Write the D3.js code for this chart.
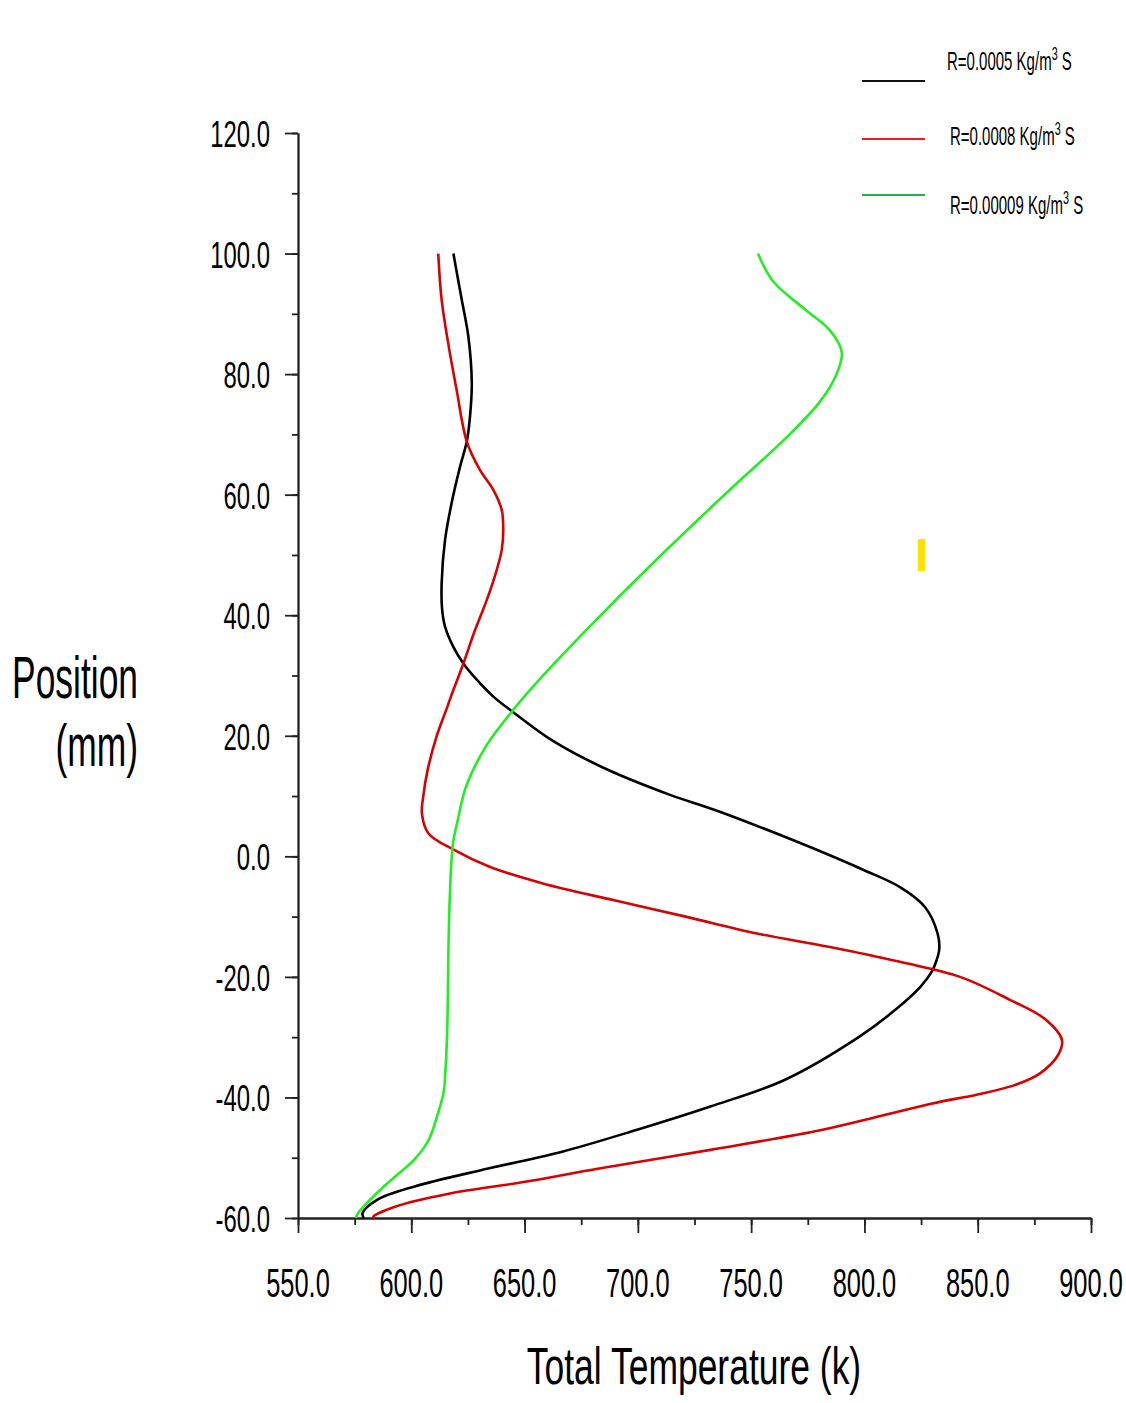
<!DOCTYPE html>
<html>
<head>
<meta charset="utf-8">
<script src="https://cdn.jsdelivr.net/npm/d3@7"></script>
<style>
  body { margin: 0; background: #fff; }
  svg text { font-family: "Liberation Sans", Arial, sans-serif; fill: #000; }
</style>
</head>
<body>
<svg id="chart"></svg>
<script>
// values: position (mm) -> total temperature (K)
const posBlack  = [100, 96, 92.3, 86.2, 78.5, 72.9, 68.8, 64.6, 58.6, 52.5, 45.3, 41, 38.1, 34.8, 32, 29.3, 26.5, 24, 19.1, 14.7, 10.2, 7.7, 2.7, -2.3, -5.1, -8.4, -12.8, -15.5, -17.7, -19.1, -21.6, -25.5, -29.9, -37.1, -41.5, -45.4, -49, -51.8, -54.8, -57, -59.2, -60];
const tempBlack = [618.6, 620.5, 622.3, 625.2, 626.7, 625.9, 624.5, 621.5, 617.8, 614.9, 613.4, 613.6, 614.9, 618.5, 623, 628.9, 636.2, 644.7, 662.7, 684.8, 714.2, 734, 768.4, 799.9, 815.7, 826.7, 832.3, 833, 831.4, 829.8, 824.8, 813.5, 797.8, 764.7, 732, 699.3, 666.6, 633.9, 601.2, 584.9, 578.5, 579];

const posRed  = [100, 92.3, 85.1, 77.4, 68.8, 64.1, 60.8, 57.5, 54.1, 50.8, 47.5, 42.5, 37.5, 32, 26.5, 24.8, 19.8, 14.3, 10, 7.1, 3.8, 1.1, -1.7, -4.5, -7.3, -10, -12.8, -15, -17.5, -20, -23.8, -27, -30.5, -33, -36, -38, -39.5, -41, -43, -45.4, -48.7, -51.8, -54, -55.9, -58.1, -59.8, -60];
const tempRed = [611.9, 613.4, 616.3, 620, 624.5, 630.3, 636.2, 639.9, 640.6, 639.9, 637.7, 633.3, 628.1, 623, 617.5, 615.9, 611.1, 607.2, 605.3, 604.7, 607.6, 618.7, 634.3, 658.1, 689.6, 721.1, 752.6, 784.2, 815.7, 842.2, 864.2, 879.7, 887.2, 885.4, 877.5, 866, 850, 830, 808, 781, 732, 682.9, 650.3, 617.6, 593.1, 583.2, 584];

const posGreen  = [100, 95.4, 91, 87.3, 83.6, 79.9, 75.4, 69.5, 60.6, 48.7, 37.6, 28.8, 24.3, 18.4, 11.7, 6, 2.1, -6.8, -15.5, -28.3, -36, -39.3, -43.7, -47.1, -50.4, -53.1, -55.9, -59.2, -60];
const tempGreen = [753, 759.7, 772.9, 784.7, 790, 787.6, 780.3, 765.6, 740, 706.8, 677.4, 655.3, 645, 633.2, 624.3, 620.5, 618.4, 617, 616.4, 615.9, 615, 614.2, 610.9, 607.6, 601.1, 592.9, 584.7, 576.5, 575.5];

const seriesNames = ["R=0.0005 Kg/m", "R=0.0008 Kg/m", "R=0.00009 Kg/m"];
const xTicks = [550, 600, 650, 700, 750, 800, 850, 900];
const yTicks = [-60, -40, -20, 0, 20, 40, 60, 80, 100, 120];

const W = 1126, H = 1403;
const svg = d3.select("#chart").attr("width", W).attr("height", H);

const x = d3.scaleLinear().domain([550, 900]).range([298, 1091]);
const y = d3.scaleLinear().domain([-60, 120]).range([1218, 133]);

const series = [
    {pos: posBlack, temp: tempBlack, color: "#000000", legendColor: "#111111", name: seriesNames[0]},
    {pos: posRed, temp: tempRed, color: "#d80000", legendColor: "#ed1c24", name: seriesNames[1]},
    {pos: posGreen, temp: tempGreen, color: "#22ee22", legendColor: "#22b14c", name: seriesNames[2]}
];

// axes: minor ticks first, then major ticks
const axisColor = "#222";
const minorY = d3.range(-60, 121, 10);
const minorX = d3.range(550, 901, 25);

svg.append("g")
    .attr("transform", "translate(298,0)")
    .call(d3.axisLeft(y).tickValues(minorY).tickSize(6).tickSizeOuter(0).tickFormat(""));
svg.append("g")
    .attr("transform", "translate(298,0)")
    .call(d3.axisLeft(y).tickValues(yTicks).tickSize(13).tickSizeOuter(0).tickFormat(""));
svg.append("g")
    .attr("transform", "translate(0,1218)")
    .call(d3.axisBottom(x).tickValues(minorX).tickSize(7).tickSizeOuter(0).tickFormat(""));
svg.append("g")
    .attr("transform", "translate(0,1218)")
    .call(d3.axisBottom(x).tickValues(xTicks).tickSize(15).tickSizeOuter(0).tickFormat(""));

svg.selectAll(".domain, .tick line")
    .attr("stroke", axisColor)
    .attr("stroke-width", 1.8);

// condensed labels (narrow font look of the original)
svg.append("g").selectAll("text")
    .data(yTicks)
    .enter()
    .append("text")
        .attr("transform", d => `translate(270,${y(d) + 14}) scale(0.645,1)`)
        .attr("text-anchor", "end")
        .attr("font-size", 37)
        .text(d => d.toFixed(1));

svg.append("g").selectAll("text")
    .data(xTicks)
    .enter()
    .append("text")
        .attr("transform", d => `translate(${x(d)},1297) scale(0.62,1)`)
        .attr("text-anchor", "middle")
        .attr("font-size", 41)
        .text(d => d.toFixed(1));

// axis titles
svg.append("text")
    .attr("transform", "translate(138,698) scale(0.59,1)")
    .attr("text-anchor", "end")
    .attr("font-size", 60)
    .text("Position");
svg.append("text")
    .attr("transform", "translate(138,766) scale(0.59,1)")
    .attr("text-anchor", "end")
    .attr("font-size", 60)
    .text("(mm)");
svg.append("text")
    .attr("transform", "translate(694,1384) scale(0.682,1)")
    .attr("text-anchor", "middle")
    .attr("font-size", 52)
    .text("Total Temperature (k)");

// curves
const line = d3.line()
    .x(d => x(d[1]))
    .y(d => y(d[0]))
    .curve(d3.curveCatmullRom.alpha(0.5));

svg.append("g").selectAll("path")
    .data(series)
    .enter()
    .append("path")
        .attr("d", s => line(s.pos.map((p, i) => [p, s.temp[i]])))
        .attr("fill", "none")
        .attr("stroke", s => s.color)
        .attr("stroke-width", 2.6)
        .attr("stroke-linejoin", "round");

// legend
const legendY = [81, 139, 195];
const labelY = [70, 145, 214];
const labelX = [947, 950, 950];
const legend = svg.append("g");
legend.selectAll("line")
    .data(series)
    .enter()
    .append("line")
        .attr("x1", 862).attr("x2", 925)
        .attr("y1", (d, i) => legendY[i]).attr("y2", (d, i) => legendY[i])
        .attr("stroke", d => d.legendColor)
        .attr("stroke-width", 2);

const lt = legend.selectAll("text")
    .data(series)
    .enter()
    .append("text")
        .attr("transform", (d, i) => `translate(${labelX[i]},${labelY[i]}) scale(0.6,1)`)
        .attr("font-size", 25);
lt.append("tspan").text(d => d.name);
lt.append("tspan").attr("dy", -10).attr("font-size", 18).text("3");
lt.append("tspan").attr("dy", 10).text(" S");

// small yellow mark present in the original figure
svg.append("rect")
    .attr("x", 918).attr("y", 539)
    .attr("width", 7).attr("height", 32)
    .attr("fill", "#ffe100");
</script>
</body>
</html>
